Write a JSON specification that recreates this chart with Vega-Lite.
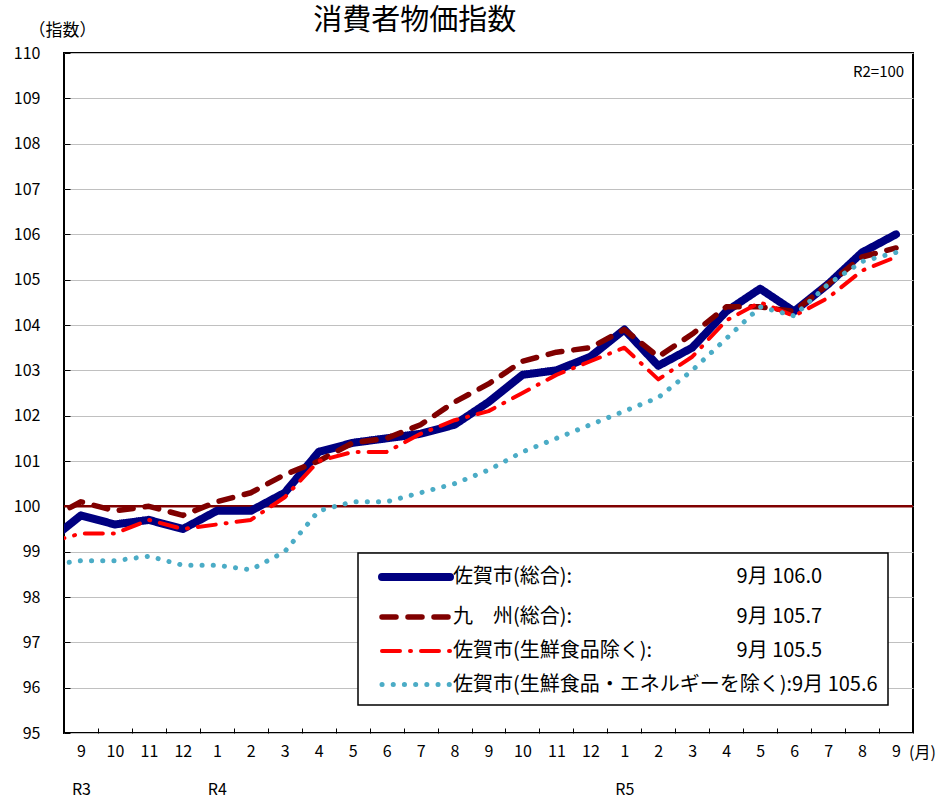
{
  "$schema": "https://vega.github.io/schema/vega-lite/v6.json",
  "autosize": "none",
  "width": 849,
  "height": 680,
  "padding": {"left": 64, "top": 53, "right": 28, "bottom": 69},
  "background": "#ffffff",
  "config": {
    "font": "Noto Sans CJK JP",
    "view": {"stroke": "#000000", "strokeWidth": 2},
    "axis": {"labelColor": "#000000", "titleColor": "#000000", "labelFont": "Noto Sans CJK JP", "titleFont": "Noto Sans CJK JP"}
  },
  "title": {
    "text": "消費者物価指数",
    "anchor": "start",
    "dx": 300,
    "offset": -28,
    "dy": 1,
    "baseline": "middle",
    "fontSize": 29,
    "fontWeight": "normal",
    "font": "Noto Sans CJK JP",
    "color": "#000000"
  },
  "datasets": {
    "cpi": [
      {"s": "a", "i": -1, "v": 99.2}, {"s": "a", "i": 0, "v": 99.8}, {"s": "a", "i": 1, "v": 99.6}, {"s": "a", "i": 2, "v": 99.7},
      {"s": "a", "i": 3, "v": 99.5}, {"s": "a", "i": 4, "v": 99.9}, {"s": "a", "i": 5, "v": 99.9}, {"s": "a", "i": 6, "v": 100.3},
      {"s": "a", "i": 7, "v": 101.2}, {"s": "a", "i": 8, "v": 101.4}, {"s": "a", "i": 9, "v": 101.5}, {"s": "a", "i": 10, "v": 101.6},
      {"s": "a", "i": 11, "v": 101.8}, {"s": "a", "i": 12, "v": 102.3}, {"s": "a", "i": 13, "v": 102.9}, {"s": "a", "i": 14, "v": 103.0},
      {"s": "a", "i": 15, "v": 103.3}, {"s": "a", "i": 16, "v": 103.9}, {"s": "a", "i": 17, "v": 103.1}, {"s": "a", "i": 18, "v": 103.5},
      {"s": "a", "i": 19, "v": 104.3}, {"s": "a", "i": 20, "v": 104.8}, {"s": "a", "i": 21, "v": 104.3}, {"s": "a", "i": 22, "v": 104.9},
      {"s": "a", "i": 23, "v": 105.6}, {"s": "a", "i": 24, "v": 106.0},
      {"s": "b", "i": -1, "v": 99.7}, {"s": "b", "i": 0, "v": 100.1}, {"s": "b", "i": 1, "v": 99.9}, {"s": "b", "i": 2, "v": 100.0},
      {"s": "b", "i": 3, "v": 99.8}, {"s": "b", "i": 4, "v": 100.1}, {"s": "b", "i": 5, "v": 100.3}, {"s": "b", "i": 6, "v": 100.7},
      {"s": "b", "i": 7, "v": 101.0}, {"s": "b", "i": 8, "v": 101.4}, {"s": "b", "i": 9, "v": 101.5}, {"s": "b", "i": 10, "v": 101.8},
      {"s": "b", "i": 11, "v": 102.3}, {"s": "b", "i": 12, "v": 102.7}, {"s": "b", "i": 13, "v": 103.2}, {"s": "b", "i": 14, "v": 103.4},
      {"s": "b", "i": 15, "v": 103.5}, {"s": "b", "i": 16, "v": 103.9}, {"s": "b", "i": 17, "v": 103.3}, {"s": "b", "i": 18, "v": 103.8},
      {"s": "b", "i": 19, "v": 104.4}, {"s": "b", "i": 20, "v": 104.4}, {"s": "b", "i": 21, "v": 104.3}, {"s": "b", "i": 22, "v": 104.9},
      {"s": "b", "i": 23, "v": 105.5}, {"s": "b", "i": 24, "v": 105.7},
      {"s": "c", "i": -1, "v": 99.2}, {"s": "c", "i": 0, "v": 99.4}, {"s": "c", "i": 1, "v": 99.4}, {"s": "c", "i": 2, "v": 99.7},
      {"s": "c", "i": 3, "v": 99.5}, {"s": "c", "i": 4, "v": 99.6}, {"s": "c", "i": 5, "v": 99.7}, {"s": "c", "i": 6, "v": 100.2},
      {"s": "c", "i": 7, "v": 101.0}, {"s": "c", "i": 8, "v": 101.2}, {"s": "c", "i": 9, "v": 101.2}, {"s": "c", "i": 10, "v": 101.6},
      {"s": "c", "i": 11, "v": 101.9}, {"s": "c", "i": 12, "v": 102.1}, {"s": "c", "i": 13, "v": 102.5}, {"s": "c", "i": 14, "v": 102.9},
      {"s": "c", "i": 15, "v": 103.2}, {"s": "c", "i": 16, "v": 103.5}, {"s": "c", "i": 17, "v": 102.8}, {"s": "c", "i": 18, "v": 103.3},
      {"s": "c", "i": 19, "v": 104.1}, {"s": "c", "i": 20, "v": 104.5}, {"s": "c", "i": 21, "v": 104.2}, {"s": "c", "i": 22, "v": 104.6},
      {"s": "c", "i": 23, "v": 105.2}, {"s": "c", "i": 24, "v": 105.5},
      {"s": "d", "i": -1, "v": 98.7}, {"s": "d", "i": 0, "v": 98.8}, {"s": "d", "i": 1, "v": 98.8}, {"s": "d", "i": 2, "v": 98.9},
      {"s": "d", "i": 3, "v": 98.7}, {"s": "d", "i": 4, "v": 98.7}, {"s": "d", "i": 5, "v": 98.6}, {"s": "d", "i": 6, "v": 99.0},
      {"s": "d", "i": 7, "v": 99.9}, {"s": "d", "i": 8, "v": 100.1}, {"s": "d", "i": 9, "v": 100.1}, {"s": "d", "i": 10, "v": 100.3},
      {"s": "d", "i": 11, "v": 100.5}, {"s": "d", "i": 12, "v": 100.8}, {"s": "d", "i": 13, "v": 101.2}, {"s": "d", "i": 14, "v": 101.5},
      {"s": "d", "i": 15, "v": 101.8}, {"s": "d", "i": 16, "v": 102.1}, {"s": "d", "i": 17, "v": 102.4}, {"s": "d", "i": 18, "v": 103.0},
      {"s": "d", "i": 19, "v": 103.7}, {"s": "d", "i": 20, "v": 104.4}, {"s": "d", "i": 21, "v": 104.2}, {"s": "d", "i": 22, "v": 104.9},
      {"s": "d", "i": 23, "v": 105.4}, {"s": "d", "i": 24, "v": 105.6}
    ],
    "note": [{"t": "R2=100"}]
  },
  "resolve": {"axis": {"x": "independent"}},
  "layer": [
    {
      "data": {"name": "note"},
      "mark": {"type": "rule", "color": "#800000", "strokeWidth": 2.5},
      "encoding": {
        "x": {"datum": -0.5, "type": "quantitative",
          "scale": {"domain": [-0.5, 24.5], "nice": false, "zero": false},
          "axis": {"orient": "bottom", "values": [0.5, 1.5, 2.5, 3.5, 4.5, 5.5, 6.5, 7.5, 8.5, 9.5, 10.5, 11.5, 12.5, 13.5, 14.5, 15.5, 16.5, 17.5, 18.5, 19.5, 20.5, 21.5, 22.5, 23.5],
            "labels": false, "domain": false, "grid": false, "ticks": true, "tickSize": -5, "tickColor": "#000000", "tickWidth": 1, "title": null}},
        "x2": {"datum": 24.5},
        "y": {"datum": 100, "type": "quantitative",
          "scale": {"domain": [95, 110], "nice": false, "zero": false},
          "axis": {"values": [95, 96, 97, 98, 99, 100, 101, 102, 103, 104, 105, 106, 107, 108, 109, 110],
            "grid": true, "gridColor": "#C0C0C0", "gridWidth": 1, "domain": false,
            "ticks": true, "tickSize": -6, "tickColor": "#000000", "tickWidth": 1,
            "labelPadding": 30, "labelFontSize": 16,
            "title": "（指数）", "titleAngle": 0, "titleX": -2, "titleY": -23, "titleAlign": "center", "titleBaseline": "middle",
            "titleFontSize": 17, "titleFontWeight": "normal"}}
      }
    },
    {
      "data": {"name": "cpi"},
      "mark": {"type": "line", "clip": true, "strokeCap": "round", "strokeJoin": "round"},
      "encoding": {
        "x": {"field": "i", "type": "quantitative",
          "scale": {"domain": [-0.5, 24.5], "nice": false, "zero": false},
          "axis": {"orient": "bottom", "values": [0, 1, 2, 3, 4, 5, 6, 7, 8, 9, 10, 11, 12, 13, 14, 15, 16, 17, 18, 19, 20, 21, 22, 23, 24],
            "labelExpr": "['9','10','11','12','1','2','3','4','5','6','7','8','9','10','11','12','1','2','3','4','5','6','7','8','9'][datum.value]",
            "ticks": false, "domain": false, "grid": false, "labelPadding": 10, "labelFontSize": 16, "labelFlush": false, "labelOverlap": false,
            "title": "(月)", "titleX": 858, "titleY": 19, "titleAlign": "center", "titleBaseline": "middle", "titleFontSize": 16, "titleFontWeight": "normal"}},
        "y": {"field": "v", "type": "quantitative", "scale": {"domain": [95, 110], "nice": false, "zero": false}},
        "color": {"field": "s", "type": "nominal",
          "scale": {"domain": ["a", "b", "c", "d"], "range": ["#000080", "#800000", "#FF0000", "#4BACC6"]},
          "legend": {
            "orient": "none", "legendX": 294, "legendY": 500, "direction": "vertical",
            "title": null, "fillColor": "#ffffff", "strokeColor": "#000000", "padding": 10,
            "symbolType": "M0,0H6.8", "symbolSize": 400, "labelFontSize": 20, "labelFont": "Noto Sans CJK JP", "labelColor": "#000000",
            "labelLimit": 1000, "labelOffset": 57, "rowPadding": 11,
            "labelExpr": "{'a': '佐賀市(総合):　　　　　　　　    9月 106.0', 'b': '九　州(総合):　　　　　　　　    9月 105.7', 'c': '佐賀市(生鮮食品除く):　　　　    9月 105.5', 'd': '佐賀市(生鮮食品・エネルギーを除く):9月 105.6'}[datum.value]",
            "encoding": {"symbols": {"strokeCap": {"value": "round"}}, "legend": {"strokeWidth": {"value": 1.5}}}
          }},
        "strokeDash": {"field": "s", "type": "nominal",
          "scale": {"domain": ["a", "b", "c", "d"], "range": [[1, 0], [14, 12], [18, 10, 1, 10], [0.1, 11.1]]}},
        "strokeWidth": {"field": "s", "type": "nominal",
          "scale": {"type": "ordinal", "domain": ["a", "b", "c", "d"], "range": [8, 5.5, 4, 5]}}
      }
    },
    {
      "data": {"name": "note"},
      "mark": {"type": "text", "align": "right", "baseline": "middle", "fontSize": 15, "font": "Noto Sans CJK JP", "color": "#000000"},
      "encoding": {
        "text": {"field": "t"},
        "x": {"datum": 24.24, "type": "quantitative",
          "scale": {"domain": [-0.5, 24.5], "nice": false, "zero": false},
          "axis": {"orient": "bottom", "values": [0, 4, 16], "labelExpr": "{'0': 'R3', '4': 'R4', '16': 'R5'}[datum.value]",
            "ticks": false, "domain": false, "grid": false, "labelPadding": 48, "labelFontSize": 16, "title": null}},
        "y": {"datum": 109.58, "type": "quantitative"}
      }
    }
  ]
}
